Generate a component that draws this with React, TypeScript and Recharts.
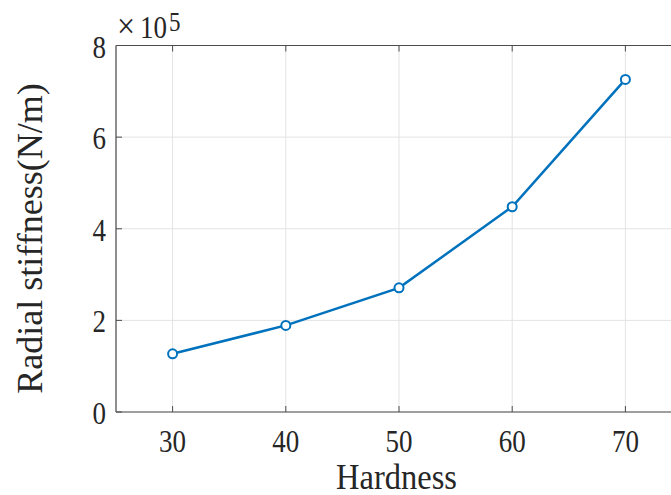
import {
  LineChart,
  Line,
  XAxis,
  YAxis,
  CartesianGrid,
  ReferenceLine,
} from "recharts";

const hardness = [30, 40, 50, 60, 70];
const stiffness = [1.27, 1.89, 2.71, 4.48, 7.26]; // ×10^5 N/m
const xTicks = [30, 40, 50, 60, 70];
const yTicks = [0, 2, 4, 6, 8];

const chartData = hardness.map((h, i) => ({ hardness: h, stiffness: stiffness[i] }));

const FONT = '"Liberation Serif", "Times New Roman", serif';
const PLOT_TOP = 45.5;
const PLOT_BOTTOM = 412;
const PLOT_LEFT = 116;
const AXIS = "#4d4d4d";
const TEXT = "#262626";
const BLUE = "#0072BD";

// MATLAB-style ticks point into the plot area
const XTick = (props: any) => {
  const { x, payload } = props;
  return (
    <g>
      <line x1={x} x2={x} y1={PLOT_BOTTOM} y2={PLOT_BOTTOM - 6} stroke={AXIS} strokeWidth={1} />
      <line x1={x} x2={x} y1={PLOT_TOP} y2={PLOT_TOP + 6} stroke={AXIS} strokeWidth={1} />
      <text
        transform={`translate(${x},451.5) scale(1,1.15)`}
        textAnchor="middle"
        fill={TEXT}
        fontSize={27}
        fontFamily={FONT}
      >
        {payload.value}
      </text>
    </g>
  );
};

const YTick = (props: any) => {
  const { y, payload } = props;
  return (
    <g>
      <line x1={PLOT_LEFT} x2={PLOT_LEFT + 6} y1={y} y2={y} stroke={AXIS} strokeWidth={1} />
      <text
        transform={`translate(106,${y + 12}) scale(1,1.15)`}
        textAnchor="end"
        fill={TEXT}
        fontSize={27}
        fontFamily={FONT}
      >
        {payload.value}
      </text>
    </g>
  );
};

const App = () => {
  return (
    <div style={{ position: "fixed", left: 0, top: 0, width: 671, height: 495, overflow: "hidden", background: "#fff" }}>
      <LineChart
        width={700}
        height={495}
        data={chartData}
        margin={{ top: PLOT_TOP, right: 18, left: 0, bottom: 0 }}
      >
        <CartesianGrid stroke="#e3e3e3" strokeWidth={1} />
        <XAxis
          dataKey="hardness"
          type="number"
          domain={[25, 75]}
          ticks={xTicks}
          height={83}
          axisLine={{ stroke: AXIS, strokeWidth: 1.2 }}
          tickLine={false}
          tick={<XTick />}
          interval={0}
        />
        <YAxis
          type="number"
          domain={[0, 8]}
          ticks={yTicks}
          width={PLOT_LEFT}
          axisLine={{ stroke: AXIS, strokeWidth: 1.2 }}
          tickLine={false}
          tick={<YTick />}
          interval={0}
        />
        <ReferenceLine y={8} stroke={AXIS} strokeWidth={1.2} ifOverflow="extendDomain" />
        <Line
          dataKey="stiffness"
          stroke={BLUE}
          strokeWidth={2.5}
          dot={{ r: 4.5, stroke: BLUE, strokeWidth: 2, fill: "#fff" }}
          isAnimationActive={false}
        />
      </LineChart>
      <svg
        width={671}
        height={495}
        style={{ position: "absolute", left: 0, top: 0, pointerEvents: "none" }}
      >
        <text
          transform="translate(42,238.5) rotate(-90)"
          textAnchor="middle"
          fill={TEXT}
          fontSize={36}
          fontFamily={FONT}
        >
          Radial stiffness(N/m)
        </text>
        <text
          transform="translate(396.5,489) scale(1,1.12)"
          textAnchor="middle"
          fill={TEXT}
          fontSize={32.5}
          fontFamily={FONT}
        >
          Hardness
        </text>
        <text transform="translate(117,38) scale(1,1.15)" fill={TEXT} fontSize={32} fontFamily={FONT}>
          ×
        </text>
        <text transform="translate(140,38) scale(1,1.15)" fill={TEXT} fontSize={27} fontFamily={FONT}>
          10
        </text>
        <text transform="translate(169,31) scale(1,1.15)" fill={TEXT} fontSize={23} fontFamily={FONT}>
          5
        </text>
      </svg>
    </div>
  );
};

export default App;
